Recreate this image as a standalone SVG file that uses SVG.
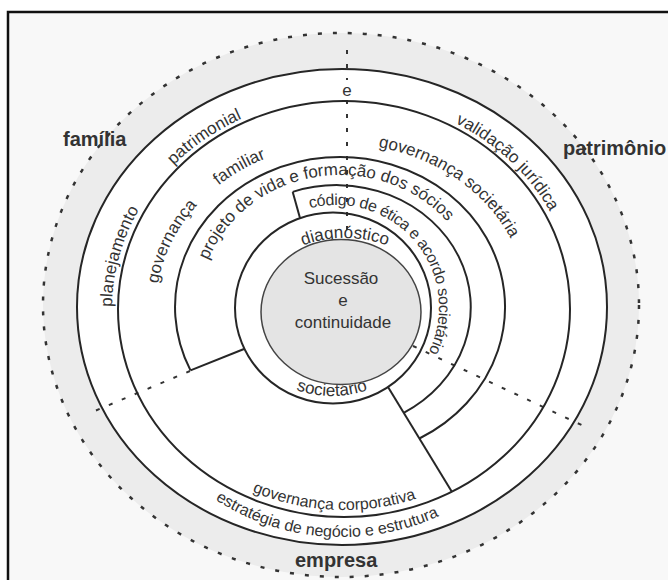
<svg xmlns="http://www.w3.org/2000/svg" width="668" height="580" viewBox="0 0 668 580">
<defs>
<style>
.ring{fill:none;stroke:#262626;stroke-width:2}
.lbl{font-family:"Liberation Sans",Arial,sans-serif;font-size:17px;fill:#333}
.sm{font-size:16px}
.big{font-family:"Liberation Sans",Arial,sans-serif;font-size:20px;font-weight:bold;fill:#333}
.div{fill:none;stroke:#333;stroke-width:2;stroke-dasharray:4 10}
.conn{fill:none;stroke:#262626;stroke-width:2}
</style>
<path id="p-plan" d="M121,367.4 A232,212 0 0 1 177.1,161.7"/>
<path id="p-patr" d="M130.1,226.8 A232,212 0 0 1 314.9,98.7"/>
<path id="p-vali" d="M408.3,105.3 A232,212 0 0 1 569.2,258.1"/>
<path id="p-gfam" d="M157.3,327.4 A186,164 0 0 1 230.6,176.7"/>
<path id="p-famil" d="M175.4,235.1 A186,164 0 0 1 330.3,144.3"/>
<path id="p-gsoc" d="M278.4,153.9 A186,164 0 0 1 525.2,336.5"/>
<path id="p-proj" d="M199,307 A141,132 0 0 1 472.5,261.9"/>
<path id="p-cod" d="M310,208.3 A103,102 0 0 1 414.9,372.6"/>
<path id="p-diag" d="M274.3,261.4 A100,80 0 0 1 415.7,261.4"/>
<path id="p-soc" d="M261.3,369.6 A100,90 0 0 0 402.7,369.6"/>
<path id="p-gcorp" d="M155.4,409.8 A218,201 0 0 0 520.6,426.9"/>
<path id="p-estr" d="M133.1,407.1 A232,230 0 0 0 533.9,436.3"/>
</defs>
<rect width="668" height="580" fill="#fff"/>
<rect x="8" y="12" width="690" height="600" fill="#f8f8f8" stroke="#111" stroke-width="2.5"/>

<g id="outer-zone">
<ellipse cx="341" cy="305" rx="298" ry="272" fill="#ececec" stroke="#333" stroke-width="2.5" stroke-dasharray="4 11"/>
</g>
<g id="ring-B-fill"><ellipse cx="342" cy="307" rx="265" ry="238" fill="#fff"/></g>

<g id="connectors">
<path class="div" d="M347,50 V80 M347,100 V240" stroke-dasharray="3 9"/>
<path class="div" d="M190,371 L90,413"/>
<path class="div" d="M413,346 L588,428"/>
<path class="conn" d="M190.5,370.4 L244,349"/>
<path class="conn" d="M292.7,191.9 L300,218"/>
<path class="conn" d="M388,387 L452,492"/>
</g>

<g id="ring-planejamento">
<ellipse class="ring" cx="342" cy="307" rx="265" ry="238"/>
<text class="lbl"><textPath href="#p-plan" startOffset="50%" text-anchor="middle">planejamento</textPath></text>
<text class="lbl"><textPath href="#p-patr" startOffset="50%" text-anchor="middle">patrimonial</textPath></text>
<text class="lbl" x="347" y="96" text-anchor="middle">e</text>
<text class="lbl"><textPath href="#p-vali" startOffset="50%" text-anchor="middle">validação jurídica</textPath></text>
<text class="lbl sm"><textPath href="#p-estr" startOffset="50%" text-anchor="middle">estratégia de negócio e estrutura</textPath></text>
</g>

<g id="ring-governanca">
<ellipse class="ring" cx="344" cy="309" rx="226" ry="208"/>
<text class="lbl"><textPath href="#p-gfam" startOffset="50%" text-anchor="middle">governança</textPath></text>
<text class="lbl"><textPath href="#p-famil" startOffset="50%" text-anchor="middle">familiar</textPath></text>
<text class="lbl"><textPath href="#p-gsoc" startOffset="50%" text-anchor="middle">governança societária</textPath></text>
<text class="lbl sm"><textPath href="#p-gcorp" startOffset="50%" text-anchor="middle">governança corporativa</textPath></text>
</g>

<g id="ring-projeto">
<path class="ring" d="M190.5,370.4 A165,150 0 1 1 419.4,438.5"/>
<text class="lbl"><textPath href="#p-proj" startOffset="50%" text-anchor="middle">projeto de vida e formação dos sócios</textPath></text>
</g>

<g id="ring-codigo">
<path class="ring" d="M292.7,191.9 A134,122 0 0 1 403.7,412.8"/>
<text class="lbl sm" letter-spacing="-0.4"><textPath href="#p-cod">código de ética e acordo societário</textPath></text>
</g>

<g id="ring-diagnostico">
<ellipse class="ring" cx="333" cy="308" rx="98" ry="95.5"/>
<text class="lbl"><textPath href="#p-diag" startOffset="50%" text-anchor="middle">diagnóstico</textPath></text>
<text class="lbl"><textPath href="#p-soc" startOffset="50%" text-anchor="middle">societário</textPath></text>
</g>

<g id="center">
<ellipse cx="341" cy="312" rx="80" ry="72.5" fill="#e4e4e4" stroke="#444" stroke-width="1.5"/>
<text class="lbl" x="341" y="284" text-anchor="middle">Sucessão</text>
<text class="lbl" x="343" y="306" text-anchor="middle">e</text>
<text class="lbl" x="343" y="328" text-anchor="middle">continuidade</text>
</g>

<g id="label-familia"><text class="big" x="63" y="146">família</text></g>
<g id="label-patrimonio"><text class="big" x="563" y="155">patrimônio</text></g>
<g id="label-empresa"><text class="big" font-size="19" x="295" y="567">empresa</text></g>
</svg>
